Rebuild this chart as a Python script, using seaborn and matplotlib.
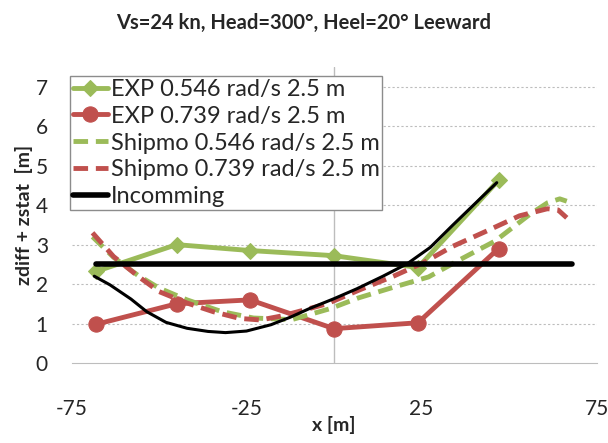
import matplotlib
matplotlib.use("Agg")
import matplotlib.pyplot as plt
import seaborn as sns

# measured series (x in m, z in m)
exp546_x = [-68, -45, -24, 0, 24, 47]
exp546_z = [2.32, 3.0, 2.85, 2.72, 2.42, 4.63]

exp739_x = [-68, -45, -24, 0, 24, 47]
exp739_z = [0.98, 1.5, 1.6, 0.87, 1.02, 2.9]

ship546_x = [-69, -63, -56, -50, -42, -32, -23, -12, -1, 7, 17, 27, 36, 46, 56, 61, 64.5, 66.5]
ship546_z = [3.2, 2.68, 2.22, 1.9, 1.6, 1.3, 1.14, 1.1, 1.38, 1.65, 1.92, 2.18, 2.62, 3.09, 3.77, 4.06, 4.16, 4.1]

ship739_x = [-69, -63, -56, -50, -42, -34.5, -27, -21, -14.5, -2, 7.5, 17, 25.5, 34, 43.5, 53, 61, 64, 66.5]
ship739_z = [3.3, 2.7, 2.2, 1.81, 1.52, 1.3, 1.13, 1.09, 1.2, 1.5, 1.86, 2.2, 2.54, 2.96, 3.34, 3.73, 3.91, 3.88, 3.68]

inc_x = [-68.5, -64, -58, -53.5, -48, -42, -36, -31, -25, -18, -12.5, -7, 0, 6.5, 14, 21, 27.5, 34, 41, 46.5]
inc_z = [2.2, 1.98, 1.62, 1.3, 1.03, 0.88, 0.8, 0.77, 0.81, 0.97, 1.16, 1.38, 1.63, 1.88, 2.2, 2.52, 2.93, 3.5, 4.1, 4.57]

inc_amp_x = [-68, 68]
inc_amp_z = [2.5, 2.5]

labels = ["EXP 0.546 rad/s 2.5 m", "EXP 0.739 rad/s 2.5 m",
          "Shipmo 0.546 rad/s 2.5 m", "Shipmo 0.739 rad/s 2.5 m", "Incomming"]

green = "#9BBB59"
red = "#C0504D"

sns.set_style("white")
plt.rcParams["font.family"] = ["Lato", "DejaVu Sans"]
plt.rcParams["axes.unicode_minus"] = False

fig = plt.figure(figsize=(6.08, 4.43), dpi=100)
ax = fig.add_axes([0.1176, 0.1806, 0.8635, 0.668])

# gridlines
for yv in range(1, 8):
    ax.axhline(yv, color="#BDBDBD", lw=0.8, ls=(0, (2, 2)), zorder=0)
ax.axvline(0, color="#BDBDBD", lw=1.0, zorder=0)

sns.lineplot(x=exp546_x, y=exp546_z, ax=ax, color=green, lw=3.5, sort=False,
             marker="D", markersize=8, markeredgecolor=green, label=labels[0])
sns.lineplot(x=exp739_x, y=exp739_z, ax=ax, color=red, lw=3.5, sort=False,
             marker="o", markersize=11, markeredgecolor=red, label=labels[1])
sns.lineplot(x=ship546_x, y=ship546_z, ax=ax, color=green, lw=3.5, sort=False,
             label=labels[2])
ax.lines[-1].set_dashes([3, 1.6])
sns.lineplot(x=ship739_x, y=ship739_z, ax=ax, color=red, lw=3.5, sort=False,
             label=labels[3])
ax.lines[-1].set_dashes([3, 1.6])
sns.lineplot(x=inc_amp_x, y=inc_amp_z, ax=ax, color="black", lw=4, sort=False,
             label=labels[4])
sns.lineplot(x=inc_x, y=inc_z, ax=ax, color="black", lw=2.2, sort=False)

ax.set_xlim(-75, 75)
ax.set_ylim(0, 7.5)
ax.set_xticks([-75, -25, 25, 75])
ax.set_yticks(range(0, 8))
ax.tick_params(axis="x", length=0, pad=26, labelsize=15)
ax.tick_params(axis="y", length=0, pad=17, labelsize=15)
for s in ["top", "right", "left"]:
    ax.spines[s].set_visible(False)
ax.spines["bottom"].set_color("#BDBDBD")

ax.set_xlabel("x [m]", fontsize=14, fontweight="bold", labelpad=-2)
ax.set_ylabel("zdiff + zstat  [m]", fontsize=14, fontweight="bold", labelpad=2)
fig.suptitle("Vs=24 kn, Head=300°, Heel=20° Leeward", fontsize=14.5,
             fontweight="bold", y=0.97)

leg = ax.legend(loc="upper left", bbox_to_anchor=(-0.003, 0.97), fontsize=17,
                frameon=True, fancybox=False, handlelength=1.5, handletextpad=0.1,
                borderpad=0.12, labelspacing=0.25, borderaxespad=0)
leg.get_frame().set_edgecolor("#8C8C8C")
leg.get_frame().set_linewidth(1.0)
leg.get_frame().set_alpha(1)

fig.savefig("out.png", dpi=100)
